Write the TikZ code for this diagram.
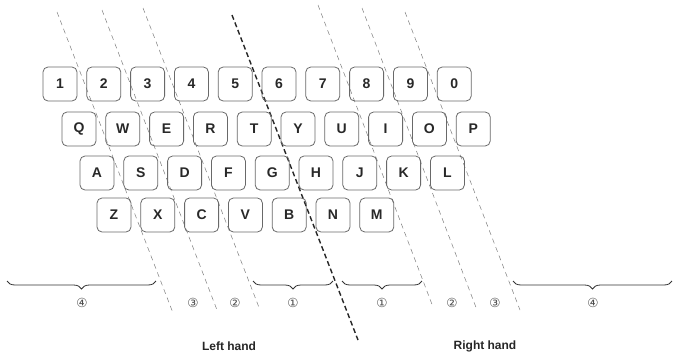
\documentclass[tikz,border=0pt]{standalone}
\usepackage{fontspec}
\setmainfont{Liberation Sans}
\newfontfamily\symfont{DejaVu Sans}
\usetikzlibrary{decorations.pathreplacing}
\definecolor{keyline}{RGB}{105,105,105}
\definecolor{keytext}{RGB}{40,40,40}
\definecolor{guide}{RGB}{125,125,125}
\begin{document}
\begin{tikzpicture}[x=1pt,y=-1pt,
 keybox/.style={draw=keyline, line width=0.8pt, rounded corners=5pt, minimum width=34pt, minimum height=34pt, inner sep=0pt, font=\fontsize{14}{14}\selectfont\bfseries, text=keytext},
 guideline/.style={draw=guide, dash pattern=on 5pt off 4pt, line width=0.5pt},
 handline/.style={draw=black!85, dash pattern=on 5pt off 3pt, line width=1.4pt},
 fingerbrace/.style={draw=black!80, line width=0.8pt, decorate, decoration={brace, mirror, amplitude=8pt}},
 fingerlabel/.style={font=\symfont\fontsize{12.5}{12.5}\selectfont, text=black!70},
 handlabel/.style={font=\fontsize{12}{12}\selectfont\bfseries, text=black!85}
]
\useasboundingbox (0,0) rectangle (673,354);
% guide line end points
\coordinate (a1) at (57,12);   \coordinate (a2) at (173,313);
\coordinate (b1) at (102,10);  \coordinate (b2) at (217,310);
\coordinate (c1) at (143,8);   \coordinate (c2) at (260,310);
\coordinate (h1) at (232,15);  \coordinate (h2) at (358,340);
\coordinate (d1) at (318,5);   \coordinate (d2) at (433,307);
\coordinate (e1) at (362,8);   \coordinate (e2) at (477,310);
\coordinate (f1) at (405,12);  \coordinate (f2) at (520,310);
\draw[guideline] (a1) -- (a2);
\draw[guideline] (b1) -- (b2);
\draw[guideline] (c1) -- (c2);
\draw[guideline] (d1) -- (d2);
\draw[guideline] (e1) -- (e2);
\draw[guideline] (f1) -- (f2);
\draw[handline] (h1) -- (h2);
% keys
\foreach \k [count=\i from 0] in {1,2,3,4,5,6,7,8,9,0}
  \node[keybox] (k\k) at ({60+43.8*\i},84) {\k};
\foreach \k [count=\i from 0] in {Q,W,E,R,T,Y,U,I,O,P}
  \node[keybox] (k\k) at ({79+43.8*\i},129) {\k};
\foreach \k [count=\i from 0] in {A,S,D,F,G,H,J,K,L}
  \node[keybox] (k\k) at ({97+43.8*\i},173) {\k};
\foreach \k [count=\i from 0] in {Z,X,C,V,B,N,M}
  \node[keybox] (k\k) at ({114+43.8*\i},215) {\k};
% braces
\coordinate (p4l) at (7,281);   \coordinate (p4r) at (156,281);
\coordinate (p1l) at (253,281); \coordinate (p1r) at (333,281);
\coordinate (q1l) at (342,281); \coordinate (q1r) at (422,281);
\coordinate (q4l) at (513,281); \coordinate (q4r) at (672,281);
\draw[fingerbrace] (p4l) -- (p4r);
\draw[fingerbrace] (p1l) -- (p1r);
\draw[fingerbrace] (q1l) -- (q1r);
\draw[fingerbrace] (q4l) -- (q4r);
% finger numbers
\node[fingerlabel] (n4l) at (82,303) {④};
\node[fingerlabel] (n3l) at (193,303) {③};
\node[fingerlabel] (n2l) at (235,303) {②};
\node[fingerlabel] (n1l) at (293,303) {①};
\node[fingerlabel] (n1r) at (382,303) {①};
\node[fingerlabel] (n2r) at (452,303) {②};
\node[fingerlabel] (n3r) at (495,303) {③};
\node[fingerlabel] (n4r) at (593,303) {④};
% hands
\node[handlabel] (lh) at (229,346) {Left hand};
\node[handlabel] (rh) at (485,346) {Right hand};
\end{tikzpicture}
\end{document}
